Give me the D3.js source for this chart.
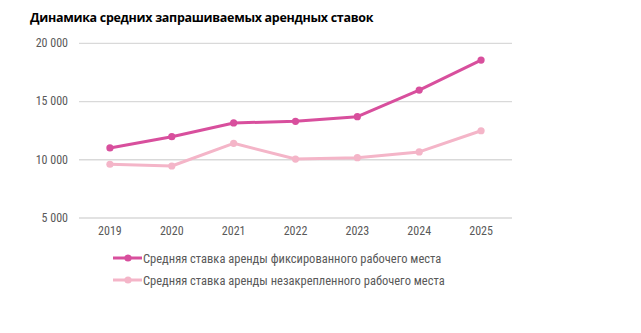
<!DOCTYPE html>
<html><head><meta charset="utf-8">
<script src="https://cdn.jsdelivr.net/npm/d3@7"></script>
<style>body{margin:0;background:#fff}svg{display:block}</style>
</head><body><svg id="c" width="641" height="333"></svg>
<script>
const title = "Динамика средних запрашиваемых арендных ставок";
const years = ["2019","2020","2021","2022","2023","2024","2025"];
const fixedRate = [10970, 11940, 13120, 13260, 13660, 15940, 18520];
const flexRate = [9570, 9420, 11370, 10020, 10140, 10630, 12450];
const yTicks = [5000, 10000, 15000, 20000];
const seriesNames = ["Средняя ставка аренды фиксированного рабочего места", "Средняя ставка аренды незакрепленного рабочего места"];
const seriesColors = ["#d84f9d", "#f4b5c8"];

const svg = d3.select("#c");
const narrow = "'Liberation Sans Narrow','Arial Narrow','Roboto Condensed',sans-serif";
svg.append("text").attr("x", 30).attr("y", 22).text(title)
  .attr("font-family", "'Open Sans','DejaVu Sans',sans-serif").attr("font-weight", 700)
  .attr("font-size", 12.5).attr("fill", "#000").attr("letter-spacing", -0.3);

const x = d3.scaleBand().domain(years).range([79, 512]);
const y = d3.scaleLinear().domain([5000, 20000]).range([217.5, 42.8]);
const fmt = v => d3.format(",")(v).replace(/,/g, " ");

const yAxis = svg.append("g").attr("transform", "translate(79,0)")
  .call(d3.axisLeft(y).tickValues(yTicks).tickSize(-433).tickFormat(fmt).tickPadding(11));
yAxis.select(".domain").remove();
yAxis.selectAll("line").attr("stroke", "#d9d9d9").attr("stroke-width", 1.3);
yAxis.selectAll("text").attr("font-family", narrow).attr("font-size", 12).attr("fill", "#595959");

const xAxis = svg.append("g").attr("transform", "translate(0,217.5)")
  .call(d3.axisBottom(x).tickSize(0).tickPadding(9));
xAxis.select(".domain").remove();
xAxis.selectAll("text").attr("font-family", narrow).attr("font-size", 12).attr("fill", "#595959");

const cx = d => x(d) + x.bandwidth() / 2;
[fixedRate, flexRate].forEach((vals, i) => {
  const pts = years.map((yr, j) => [cx(yr), y(vals[j])]);
  svg.append("path").attr("d", d3.line()(pts)).attr("fill", "none")
    .attr("stroke", seriesColors[i]).attr("stroke-width", 3).attr("stroke-linejoin", "round");
  svg.selectAll(null).data(pts).enter().append("circle")
    .attr("cx", d => d[0]).attr("cy", d => d[1]).attr("r", 3.6).attr("fill", seriesColors[i]);
});

seriesNames.forEach((n, i) => {
  const ly = 258 + i * 22;
  svg.append("line").attr("x1", 113).attr("x2", 142).attr("y1", ly).attr("y2", ly)
    .attr("stroke", seriesColors[i]).attr("stroke-width", 3);
  svg.append("circle").attr("cx", 128).attr("cy", ly).attr("r", 3.6).attr("fill", seriesColors[i]);
  svg.append("text").attr("x", 143).attr("y", ly + 4.5).text(n)
    .attr("font-family", narrow).attr("font-size", 12.5).attr("fill", "#595959");
});
</script></body></html>
